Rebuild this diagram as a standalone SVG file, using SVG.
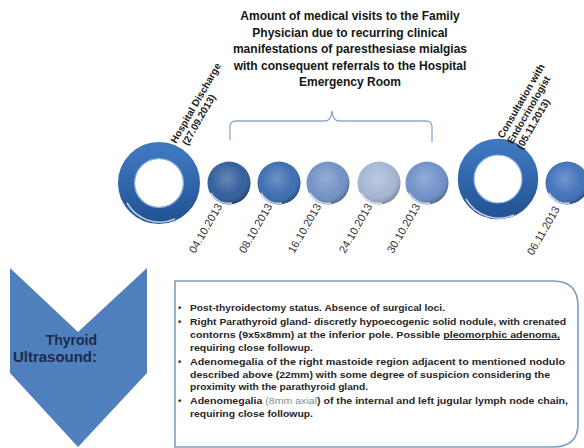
<svg xmlns="http://www.w3.org/2000/svg" width="584" height="448" viewBox="0 0 584 448">
<defs>
<style>
.title{font-family:"Liberation Sans",Arial,sans-serif;font-weight:bold;font-size:12px;fill:#151515;text-anchor:middle}
.rot{font-family:"Liberation Sans",Arial,sans-serif;font-weight:bold;font-size:10px;fill:#222}
.date{font-family:"Liberation Sans",Arial,sans-serif;font-size:11px;fill:#333}
.body{font-family:"Liberation Sans",Arial,sans-serif;font-weight:bold;font-size:9.5px;fill:#262626}
.chev{font-family:"Liberation Sans",Arial,sans-serif;font-weight:bold;font-size:14px;fill:#1c2a4d;text-anchor:end}
.light{font-weight:normal;fill:#8a8a8a}
.gloss{fill:url(#gloss)}
.rim{fill:none;stroke:#ffffff;stroke-opacity:0.7;stroke-width:1.6}
</style>
<radialGradient id="gloss" cx="0.45" cy="0.4" r="0.6">
<stop offset="0" stop-color="#ffffff" stop-opacity="0.28"/>
<stop offset="0.65" stop-color="#ffffff" stop-opacity="0.05"/>
<stop offset="1" stop-color="#000000" stop-opacity="0.25"/>
</radialGradient>
<linearGradient id="ringGrad" x1="0" y1="0" x2="0" y2="1">
<stop offset="0" stop-color="#3f77bf"/>
<stop offset="1" stop-color="#245597"/>
</linearGradient>
</defs>

<g id="title">
<text class="title" x="350" y="20">Amount of medical visits to the Family</text>
<text class="title" x="350" y="36.5">Physician due to recurring clinical</text>
<text class="title" x="350" y="53">manifestations of paresthesiase mialgias</text>
<text class="title" x="350" y="69.5">with consequent referrals to the Hospital</text>
<text class="title" x="350" y="86">Emergency Room</text>
</g>

<g id="connectors">
<path d="M230,140 V127 Q230,121 236,121 H325 Q331,121 332,111 Q333,121 339,121 H426 Q432,121 432,127 V142" fill="none" stroke="#8ea9cc" stroke-width="1.3"/>
</g>

<g id="ring-discharge">
<circle cx="159" cy="183" r="32.5" fill="none" stroke="url(#ringGrad)" stroke-width="17"/>
<circle cx="159" cy="183" r="24.5" fill="none" stroke="#9fc0e6" stroke-width="1.2" stroke-opacity="0.8"/>
<path d="M127,203 A38,38 0 0 0 175,219" class="rim"/>
</g>
<g id="visit-1"><circle cx="229" cy="183" r="21.5" fill="#2a5899"/><circle cx="229" cy="183" r="21.5" class="gloss"/><path d="M211,193 A20,20 0 0 0 232,203" class="rim"/></g>
<g id="visit-2"><circle cx="279" cy="183" r="21.5" fill="#3568ae"/><circle cx="279" cy="183" r="21.5" class="gloss"/><path d="M261,193 A20,20 0 0 0 282,203" class="rim"/></g>
<g id="visit-3"><circle cx="328" cy="183" r="21.5" fill="#6c8ec4"/><circle cx="328" cy="183" r="21.5" class="gloss"/><path d="M310,193 A20,20 0 0 0 331,203" class="rim"/></g>
<g id="visit-4"><circle cx="379" cy="183" r="21.5" fill="#a2b4d2"/><circle cx="379" cy="183" r="21.5" class="gloss"/><path d="M361,193 A20,20 0 0 0 382,203" class="rim"/></g>
<g id="visit-5"><circle cx="427" cy="183" r="21.5" fill="#6b8dc8"/><circle cx="427" cy="183" r="21.5" class="gloss"/><path d="M409,193 A20,20 0 0 0 430,203" class="rim"/></g>
<g id="ring-consult">
<circle cx="498" cy="179" r="32" fill="none" stroke="url(#ringGrad)" stroke-width="16.5"/>
<circle cx="498" cy="179" r="24" fill="none" stroke="#9fc0e6" stroke-width="1.2" stroke-opacity="0.8"/>
<path d="M466,199 A38,38 0 0 0 514,215" class="rim"/>
</g>
<g id="visit-6"><circle cx="567" cy="183" r="21.5" fill="#3a6db6"/><circle cx="567" cy="183" r="21.5" class="gloss"/><path d="M549,193 A20,20 0 0 0 570,203" class="rim"/></g>

<g id="label-discharge" transform="translate(176,144) rotate(-60)">
<text class="rot" x="0" y="0">Hospital Discharge</text>
<text class="rot" x="4" y="11">(27.09.2013)</text>
</g>
<g id="label-consult" transform="translate(503,139) rotate(-60)">
<text class="rot" x="0" y="0">Consultation with</text>
<text class="rot" x="0" y="11">Endocrinologist</text>
<text class="rot" x="0" y="22">(05.11.2013)</text>
</g>

<g id="dates">
<text class="date" transform="translate(195,254) rotate(-60)">04.10.2013</text>
<text class="date" transform="translate(245,254) rotate(-60)">08.10.2013</text>
<text class="date" transform="translate(294,254) rotate(-60)">16.10.2013</text>
<text class="date" transform="translate(345,254) rotate(-60)">24.10.2013</text>
<text class="date" transform="translate(393,254) rotate(-60)">30.10.2013</text>
<text class="date" transform="translate(533,256) rotate(-60)">06.11.2013</text>
</g>

<g id="chevron">
<polygon points="10,268 78,332 147,268 147,373 78,447 10,373" fill="#4f80bd"/>
<text class="chev" x="97" y="345">Thyroid</text>
<text class="chev" x="97" y="362" textLength="84" lengthAdjust="spacingAndGlyphs">Ultrasound:</text>
</g>

<g id="findings">
<path d="M175,281 H553 Q578,281 578,306 V424 Q578,447 553,447 H175 Z" fill="#ffffff" stroke="#7f9cc4" stroke-width="1.6"/>
<g class="body">
<text x="178" y="311">•</text>
<text x="190" y="311" textLength="255" lengthAdjust="spacingAndGlyphs">Post-thyroidectomy status. Absence of surgical loci.</text>
<text x="178" y="325">•</text>
<text x="190" y="325" textLength="376" lengthAdjust="spacingAndGlyphs">Right Parathyroid gland- discretly hypoecogenic solid nodule, with crenated</text>
<text x="190" y="338" textLength="370" lengthAdjust="spacingAndGlyphs">contorns (9x5x8mm) at the inferior pole. Possible <tspan text-decoration="underline">pleomorphic adenoma,</tspan></text>
<text x="190" y="351" textLength="123" lengthAdjust="spacingAndGlyphs">requiring close followup.</text>
<text x="178" y="365">•</text>
<text x="190" y="365" textLength="375" lengthAdjust="spacingAndGlyphs">Adenomegalia of the right mastoide region adjacent to mentioned nodulo</text>
<text x="190" y="377.5" textLength="360" lengthAdjust="spacingAndGlyphs">described above (22mm) with some degree of suspicion considering the</text>
<text x="190" y="390" textLength="178" lengthAdjust="spacingAndGlyphs">proximity with the parathyroid gland.</text>
<text x="178" y="404">•</text>
<text x="190" y="404" textLength="378" lengthAdjust="spacingAndGlyphs">Adenomegalia <tspan class="light">(8mm axial</tspan>) of the internal and left jugular lymph node chain,</text>
<text x="190" y="416.5" textLength="123" lengthAdjust="spacingAndGlyphs">requiring close followup.</text>
</g>
</g>
</svg>
